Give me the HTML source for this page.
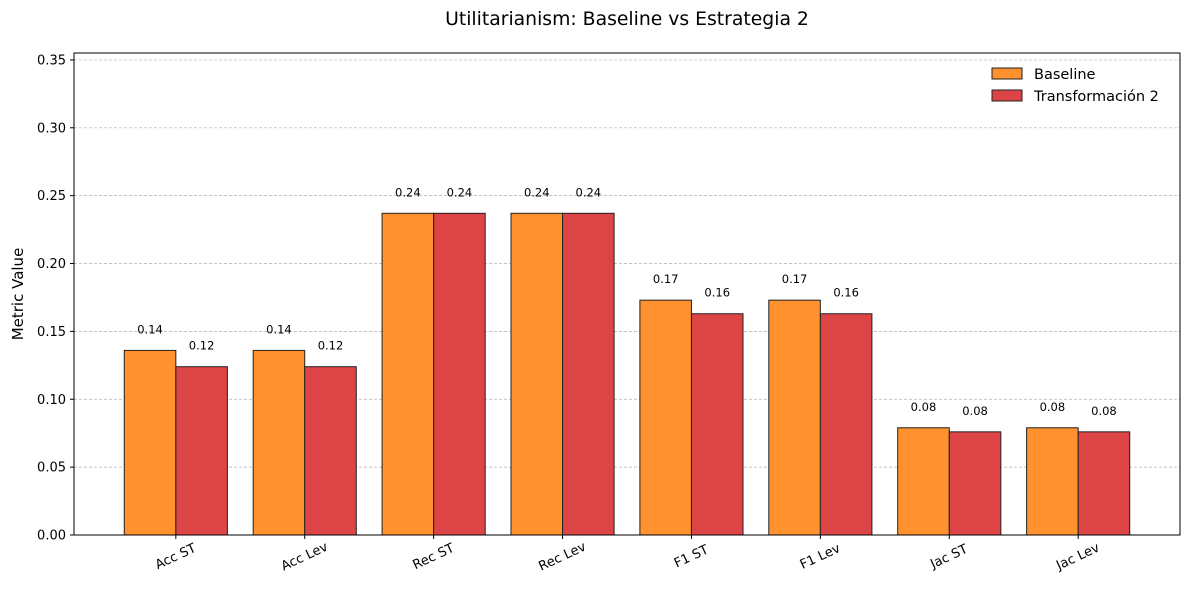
<!DOCTYPE html>
<html><head><meta charset="utf-8"><style>
body{margin:0;background:#fff;font-family:"Liberation Sans","DejaVu Sans",sans-serif;}
svg text{font-family:"DejaVu Sans","Liberation Sans",sans-serif;}
</style></head><body>
<svg id="chart" width="1189" height="590" xmlns="http://www.w3.org/2000/svg">
<rect width="1189" height="590" fill="#fff"/>
<text x="627" y="25" font-size="18.8" text-anchor="middle" fill="#000">Utilitarianism: Baseline vs Estrategia 2</text>
<g id="grid"></g><g id="bars"></g><g id="axes"></g>
<text transform="translate(23,294) rotate(-90)" font-size="15" text-anchor="middle">Metric Value</text>
<g>
<rect x="992" y="68" width="30" height="11" fill="#ff922e" stroke="#222" stroke-width="1"/>
<text x="1034" y="79" font-size="14.5">Baseline</text>
<rect x="992" y="90" width="30" height="11" fill="#dc4445" stroke="#222" stroke-width="1"/>
<text x="1034" y="101" font-size="14.5">Transformación 2</text>
</g>
</svg>
<script>
const categories=["Acc ST","Acc Lev","Rec ST","Rec Lev","F1 ST","F1 Lev","Jac ST","Jac Lev"];
const baseline=[0.136,0.136,0.237,0.237,0.173,0.173,0.079,0.079];
const transf=[0.124,0.124,0.237,0.237,0.163,0.163,0.076,0.076];
const yTicks=[0,0.05,0.10,0.15,0.20,0.25,0.30,0.35];
const L=74,R=1180,T=53,B=535;
const yMax=0.3551,xMin=-0.79,xMax=7.79;
const y=v=>B-(v/yMax)*(B-T);
const x=i=>L+(i-xMin)/(xMax-xMin)*(R-L);
const bw=0.4*(R-L)/(xMax-xMin);
const NS="http://www.w3.org/2000/svg";
function mk(t,a,p){const e=document.createElementNS(NS,t);for(const k in a)e.setAttribute(k,a[k]);p.appendChild(e);return e;}
const grid=document.getElementById('grid'),bars=document.getElementById('bars'),axes=document.getElementById('axes');
yTicks.forEach(v=>{
 const g=mk('line',{x1:L,x2:R,y1:y(v),y2:y(v),stroke:'#b0b0b0','stroke-width':0.7,'stroke-dasharray':'3,2'},grid);
 
 
 const tk=mk('line',{x1:L-4,x2:L,y1:y(v),y2:y(v),stroke:'#000'},axes);
 
 
 const t=mk('text',{x:L-8,y:y(v)+4.5,'font-size':13,'text-anchor':'end'},axes);
 t.textContent=v.toFixed(2);
 
 
});
function series(vals,fill,off,name){
 vals.forEach((v,i)=>{
  const cx=x(i)+off*bw;
  const r=mk('rect',{x:cx-bw/2,y:y(v),width:bw,height:B-y(v),fill:fill,stroke:'#222','stroke-width':1},bars);
  
  
  const t=mk('text',{x:cx,y:y(v)-17,'font-size':11.5,'text-anchor':'middle'},bars);
  t.textContent=v.toFixed(2);
  
  
 });
}
series(baseline,'#ff922e',-0.5,'baseline');
series(transf,'#dc4445',0.5,'transformacion');
categories.forEach((c,i)=>{
 const tk=mk('line',{x1:x(i),x2:x(i),y1:B,y2:B+4,stroke:'#000'},axes);
 
 
 const t=mk('text',{transform:`translate(${x(i)},${B+22}) rotate(-25)`,'font-size':13,'text-anchor':'middle','dominant-baseline':'middle'},axes);
 t.textContent=c;
 
 
});
const f=mk('rect',{x:L,y:T,width:R-L,height:B-T,fill:'none',stroke:'#000','stroke-width':1},axes);


</script>
</body></html>
